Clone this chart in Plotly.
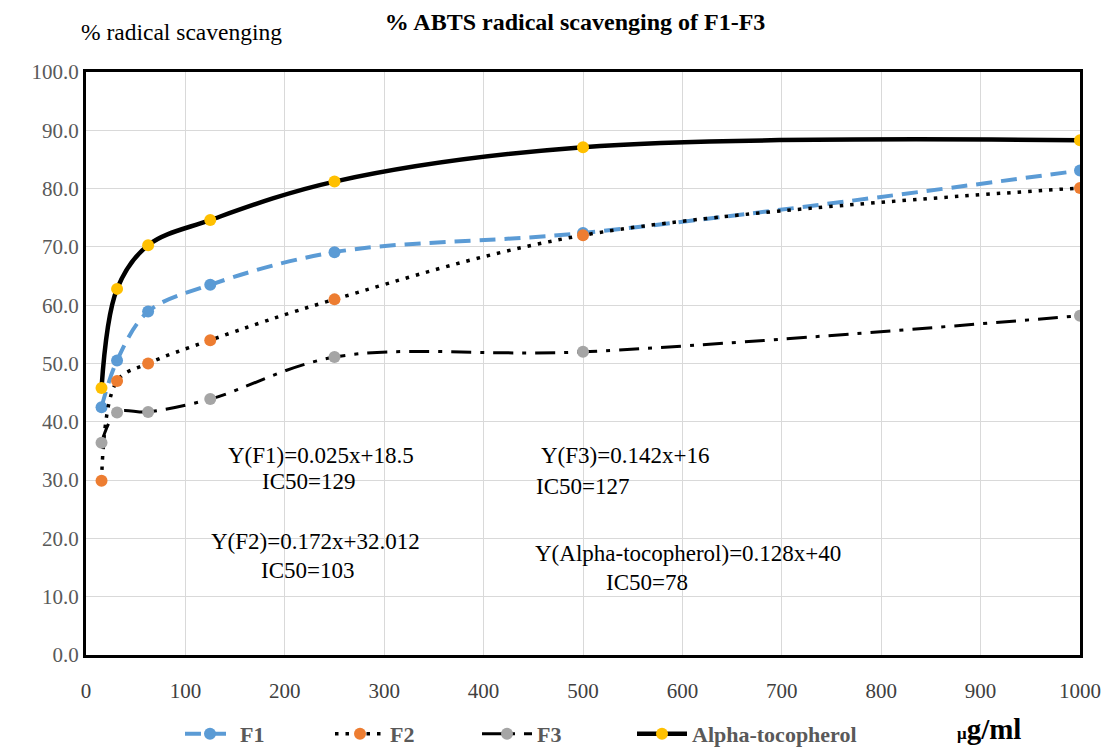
import plotly.graph_objects as go

conc = [15.625, 31.25, 62.5, 125, 250, 500, 1000]
f1 = [42.5, 50.5, 58.9, 63.5, 69.1, 72.4, 83.1]
f2 = [29.9, 47.0, 50.0, 54.0, 61.0, 72.0, 80.1]
f3 = [36.4, 41.6, 41.7, 43.9, 51.1, 52.0, 58.2]
alpha = [45.8, 62.8, 70.3, 74.6, 81.2, 87.1, 88.3]

x_ticks = list(range(0, 1001, 100))
y_ticks = list(range(0, 101, 10))

title_text = "% ABTS radical scavenging of F1-F3"
y_title = "% radical scavenging"
x_title = "<span style='font-size:17px'>μ</span>g/ml"

notes = [
    ("Y(F1)=0.025x+18.5", 321, 455),
    ("IC50=129", 308, 481),
    ("Y(F3)=0.142x+16", 625, 455),
    ("IC50=127", 582, 486),
    ("Y(F2)=0.172x+32.012", 315, 541),
    ("IC50=103", 307, 570),
    ("Y(Alpha-tocopherol)=0.128x+40", 688, 553),
    ("IC50=78", 647, 582),
]

SERIF = "Liberation Serif"
W, H = 1107, 750
ml, mr, mt, mb = 86, 27, 72, 95
pw, ph = W - ml - mr, H - mt - mb

fig = go.Figure()
fig.add_trace(go.Scatter(x=conc, y=f1, name="F1", mode="lines+markers", legend="legend",
    line=dict(color="#5B9BD5", width=4, dash="16px,9px", shape="spline"),
    marker=dict(color="#5B9BD5", size=12)))
fig.add_trace(go.Scatter(x=conc, y=f2, name="F2", mode="lines+markers", legend="legend2",
    line=dict(color="black", width=3.5, dash="3.5px,7px", shape="spline"),
    marker=dict(color="#ED7D31", size=12)))
fig.add_trace(go.Scatter(x=conc, y=f3, name="F3", mode="lines+markers", legend="legend3",
    line=dict(color="black", width=3, dash="20px,9px,4px,9px", shape="spline"),
    marker=dict(color="#A5A5A5", size=12)))
fig.add_trace(go.Scatter(x=conc, y=alpha, name="Alpha-tocopherol", mode="lines+markers",
    legend="legend4",
    line=dict(color="black", width=4.5, shape="spline"),
    marker=dict(color="#FFC000", size=12)))

anns = []
for txt, px, py in notes:
    anns.append(dict(text=txt, x=(px - ml) / pw, y=1 - (py - mt) / ph,
                     xref="paper", yref="paper", showarrow=False, xanchor="center",
                     yanchor="middle", font=dict(family=SERIF, size=23, color="black")))
anns.append(dict(text=y_title, x=(79 - ml) / pw, y=1 + (mt - 32) / ph,
                 xref="paper", yref="paper", showarrow=False, xanchor="left", yanchor="middle",
                 font=dict(family=SERIF, size=23.5, color="black")))
anns.append(dict(text="<b>" + x_title + "</b>", x=(989 - ml) / pw,
                 y=-(729 - mt - ph) / ph,
                 xref="paper", yref="paper", showarrow=False, xanchor="center", yanchor="middle",
                 font=dict(family=SERIF, size=29, color="black")))

legend_common = dict(orientation="h", xref="container", yref="container", xanchor="left",
                     yanchor="middle", y=1 - 734 / H,
                     font=dict(family=SERIF, size=22, color="#595959", weight="bold"),
                     itemwidth=50, bgcolor="rgba(0,0,0,0)")

fig.update_layout(
    width=W, height=H,
    font=dict(family=SERIF, color="#595959"),
    margin=dict(l=ml, r=mr, t=mt, b=mb, autoexpand=False),
    paper_bgcolor="white", plot_bgcolor="white",
    annotations=anns,
    title=dict(text="<b>" + title_text + "</b>", x=575 / W, xanchor="center",
               y=1 - 22 / H, yanchor="middle",
               font=dict(family=SERIF, size=24, color="black")),
    xaxis=dict(range=[0, 1000], tickvals=x_ticks, ticks="", showgrid=True,
               gridcolor="#D9D9D9", gridwidth=1, showline=True, linecolor="black",
               linewidth=3, mirror=True, zeroline=False, ticklabelstandoff=15,
               tickfont=dict(family=SERIF, size=21, color="#404040")),
    yaxis=dict(range=[0, 100], tickvals=y_ticks, tickformat=".1f", ticks="",
               showgrid=True, gridcolor="#D9D9D9", gridwidth=1, showline=True,
               linecolor="black", linewidth=3, mirror=True, zeroline=False,
               tickfont=dict(family=SERIF, size=21, color="#595959")),
    legend=dict(legend_common, x=180 / W),
    legend2=dict(legend_common, x=330 / W),
    legend3=dict(legend_common, x=477 / W),
    legend4=dict(legend_common, x=632 / W),
    showlegend=True,
)

fig.write_html("out.html")
